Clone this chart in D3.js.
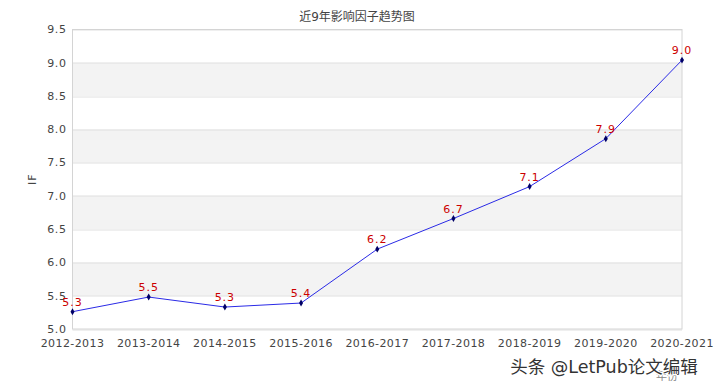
<!DOCTYPE html>
<html>
<head>
<meta charset="utf-8">
<script src="https://cdn.jsdelivr.net/npm/d3@7"></script>
<style>
  body { margin: 0; background: #fff; }
  text { font-family: "DejaVu Sans", "Noto Sans CJK SC", sans-serif; }
</style>
</head>
<body>
<svg width="714" height="387"></svg>
<script>
// Data
let years = ['2012-2013', '2013-2014', '2014-2015', '2015-2016', '2016-2017',
             '2017-2018', '2018-2019', '2019-2020', '2020-2021']
let ifValues = [5.26, 5.48, 5.33, 5.39, 6.20, 6.66, 7.14, 7.86, 9.04]
let yTicks = [5.0, 5.5, 6.0, 6.5, 7.0, 7.5, 8.0, 8.5, 9.0, 9.5]

let margin = { left: 72.5, right: 32, top: 29.5, bottom: 58 }
let w = 714 - margin.left - margin.right
let h = 387 - margin.top - margin.bottom

let svg = d3.select('svg')

let x = d3.scalePoint()
  .domain(years)
  .range([0, w])

let y = d3.scaleLinear()
  .domain([5.0, 9.5])
  .range([h, 0])

let g = svg.append('g')
  .attr('transform', `translate(${margin.left},${margin.top})`)

// Alternating bands
let bands = d3.range(0, yTicks.length - 1)
  .filter(i => i % 2 === 1)
g.selectAll('.band')
  .data(bands)
  .enter()
  .append('rect')
  .attr('class', 'band')
  .attr('x', 0)
  .attr('width', w)
  .attr('y', i => y(yTicks[i + 1]))
  .attr('height', i => y(yTicks[i]) - y(yTicks[i + 1]))
  .attr('fill', '#f3f3f3')

// Grid lines
g.selectAll('.grid')
  .data(yTicks)
  .enter()
  .append('line')
  .attr('x1', 0)
  .attr('x2', w)
  .attr('y1', d => Math.round(y(d)) + 0.5)
  .attr('y2', d => Math.round(y(d)) + 0.5)
  .attr('stroke', '#e0e0e0')

// Frame
g.append('rect')
  .attr('x', 0)
  .attr('y', 0)
  .attr('width', w)
  .attr('height', h)
  .attr('fill', 'none')
  .attr('stroke', '#d4d4d4')

// Y tick labels
g.selectAll('.ytick')
  .data(yTicks)
  .enter()
  .append('text')
  .attr('x', -6)
  .attr('y', d => y(d))
  .attr('dy', '0.35em')
  .attr('text-anchor', 'end')
  .attr('font-size', 11)
  .attr('letter-spacing', 0.6)
  .attr('fill', '#444')
  .text(d => d.toFixed(1))

// X tick labels
g.selectAll('.xtick')
  .data(years)
  .enter()
  .append('text')
  .attr('x', d => x(d))
  .attr('y', h + 18)
  .attr('text-anchor', 'middle')
  .attr('font-size', 11)
  .attr('letter-spacing', 0.4)
  .attr('fill', '#444')
  .text(d => d)

// Line
let line = d3.line()
  .x((d, i) => x(years[i]))
  .y(d => y(d))

g.append('path')
  .datum(ifValues)
  .attr('d', line)
  .attr('fill', 'none')
  .attr('stroke', '#2a2ae6')
  .attr('stroke-width', 1)

// Markers
g.selectAll('.marker')
  .data(ifValues)
  .enter()
  .append('path')
  .attr('d', d3.symbol().type(d3.symbolDiamond).size(14))
  .attr('transform', (d, i) => `translate(${x(years[i])},${y(d)})`)
  .attr('fill', '#000066')

// Value labels
g.selectAll('.vlabel')
  .data(ifValues)
  .enter()
  .append('text')
  .attr('x', (d, i) => x(years[i]))
  .attr('y', d => y(d) - 6)
  .attr('text-anchor', 'middle')
  .attr('font-size', 11)
  .attr('letter-spacing', 1)
  .attr('fill', '#cc0000')
  .text(d => d.toFixed(1))

// Title
svg.append('text')
  .attr('x', 357)
  .attr('y', 21)
  .attr('text-anchor', 'middle')
  .attr('font-size', 12)
  .attr('fill', '#444')
  .text('近9年影响因子趋势图')

// Y axis title
svg.append('text')
  .attr('transform', `translate(36,${margin.top + h / 2}) rotate(-90)`)
  .attr('text-anchor', 'middle')
  .attr('font-size', 11)
  .attr('letter-spacing', 1)
  .attr('fill', '#444')
  .text('IF')

// X axis title
svg.append('text')
  .attr('x', 667)
  .attr('y', 380)
  .attr('text-anchor', 'middle')
  .attr('font-size', 11)
  .attr('fill', '#888')
  .text('年份')

// Watermark
svg.append('text')
  .attr('x', 604)
  .attr('y', 373)
  .attr('text-anchor', 'middle')
  .attr('font-size', 17.5)
  .attr('fill', '#333')
  .attr('stroke', '#fff')
  .attr('stroke-width', 2.5)
  .attr('paint-order', 'stroke')
  .attr('font-family', '"Noto Sans CJK SC", sans-serif')
  .text('头条 @LetPub论文编辑')
</script>
</body>
</html>
